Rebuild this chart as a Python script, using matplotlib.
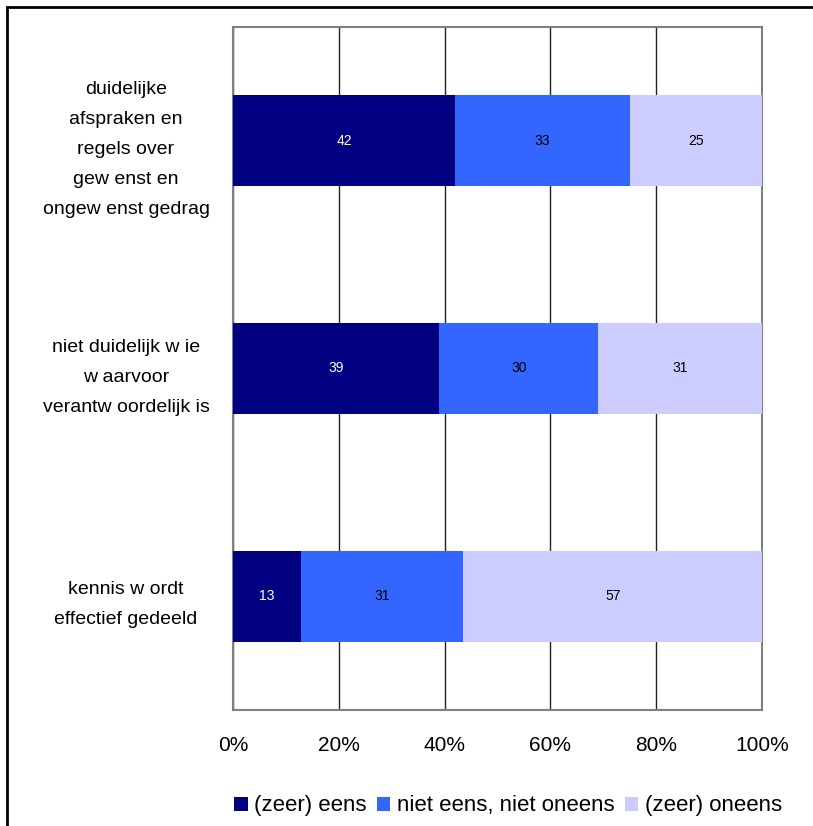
import matplotlib
matplotlib.use('Agg')
import matplotlib.pyplot as plt
from matplotlib.patches import Rectangle

categories = [
    "duidelijke\nafspraken en\nregels over\ngew enst en\nongew enst gedrag",
    "niet duidelijk w ie\nw aarvoor\nverantw oordelijk is",
    "kennis w ordt\neffectief gedeeld",
]
series_names = ["(zeer) eens", "niet eens, niet oneens", "(zeer) oneens"]
eens = [42, 39, 13]
neutraal = [33, 30, 31]
oneens = [25, 31, 57]
colors = ['#000080', '#3366FF', '#CCCCFF']
label_colors = ['white', 'black', 'black']

plt.rcParams['font.family'] = ['Liberation Sans', 'DejaVu Sans']

fig = plt.figure(figsize=(8.13, 8.26), dpi=100)
ax = fig.add_axes([233 / 813, 1 - 710 / 826, (762 - 233) / 813, (710 - 27) / 826])

# outer frame (cut off on right and bottom like the original)
fig.add_artist(Rectangle((7 / 813, -0.05), 1.2, 1 - 7 / 826 + 0.05, transform=fig.transFigure,
                         fill=False, edgecolor='black', linewidth=2))

y = list(range(len(categories)))
series = [eens, neutraal, oneens]
totals = [e + n + o for e, n, o in zip(eens, neutraal, oneens)]
left = [0] * len(categories)
for vals, name, c, lc in zip(series, series_names, colors, label_colors):
    pct = [v / t * 100 for v, t in zip(vals, totals)]
    bars = ax.barh(y, pct, left=left, height=0.4, color=c, label=name, zorder=3)
    for b, v in zip(bars, vals):
        ax.text(b.get_x() + b.get_width() / 2, b.get_y() + b.get_height() / 2, str(v),
                ha='center', va='center', fontsize=10, color=lc, zorder=4)
    left = [l + p for l, p in zip(left, pct)]

ax.set_xlim(0, 100)
ax.set_ylim(len(categories) - 0.5, -0.5)
ax.set_xticks([0, 20, 40, 60, 80, 100])
ax.set_xticklabels(['0%', '20%', '40%', '60%', '80%', '100%'], fontsize=15)
ax.set_yticks(y)
ax.set_yticklabels(categories, fontsize=14, linespacing=2.0, ha='center')
ax.tick_params(axis='y', length=0, pad=77)
ax.tick_params(axis='x', length=0, pad=19)
ax.grid(axis='x', color='#222222', linewidth=1, zorder=0)
for s in ax.spines.values():
    s.set_color('#808080')
    s.set_linewidth(1.5)

leg = fig.legend(loc='center', bbox_to_anchor=(508 / 813, 1 - 806 / 826), ncol=3, frameon=False,
                 fontsize=16, handlelength=0.6, handleheight=0.6, handletextpad=0.3,
                 columnspacing=0.45)

fig.savefig('out.png', dpi=100)
